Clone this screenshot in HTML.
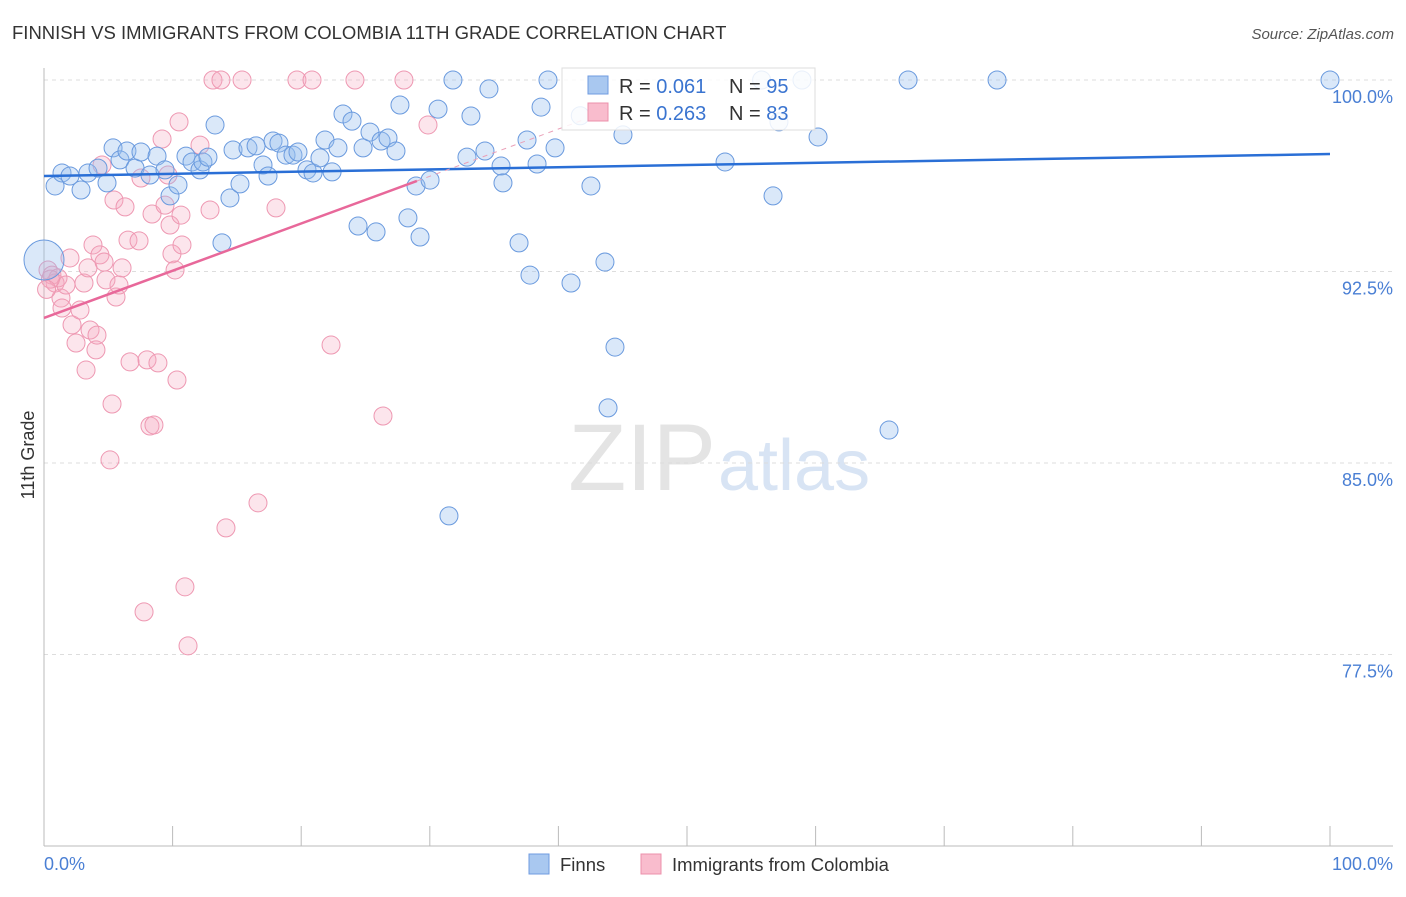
<!DOCTYPE html>
<html><head><meta charset="utf-8"><style>
body{margin:0;background:#fff;font-family:"Liberation Sans",sans-serif}
svg text{font-family:"Liberation Sans",sans-serif}
</style></head><body>
<svg id="c" width="1406" height="892" xmlns="http://www.w3.org/2000/svg">
<text x="12" y="39" font-size="18.5" fill="#333">FINNISH VS IMMIGRANTS FROM COLOMBIA 11TH GRADE CORRELATION CHART</text>
<text x="1394" y="39" font-size="15" fill="#555" text-anchor="end" font-style="italic">Source: ZipAtlas.com</text>
<text x="716" y="490" font-size="95" fill="#e4e4e4" text-anchor="end" font-family="Liberation Serif">ZIP</text>
<text x="718" y="490" font-size="72" fill="#d8e4f4">atlas</text>
<g id="grid"></g><g id="axes"></g><g id="pts"></g><g id="lines"></g>
<text transform="translate(34,455) rotate(-90)" font-size="18" fill="#333" text-anchor="middle">11th Grade</text>
<text x="44" y="870" font-size="18" fill="#4a7fd4">0.0%</text>
<text x="1393" y="870" font-size="18" fill="#4a7fd4" text-anchor="end">100.0%</text>
<g>
<rect x="562" y="68" width="253" height="62" fill="#fff" fill-opacity="0.85" stroke="#ddd"/>
<rect x="588" y="76" width="20" height="18" fill="#a9c8f0" stroke="#6f9be0"/>
<rect x="588" y="103" width="20" height="18" fill="#f9bccd" stroke="#ec90ab"/>
<text x="619" y="93" font-size="20" fill="#333">R = <tspan fill="#3a74d0">0.061</tspan></text>
<text x="729" y="93" font-size="20" fill="#333">N = <tspan fill="#3a74d0">95</tspan></text>
<text x="619" y="120" font-size="20" fill="#333">R = <tspan fill="#3a74d0">0.263</tspan></text>
<text x="729" y="120" font-size="20" fill="#333">N = <tspan fill="#3a74d0">83</tspan></text>
</g>
<g>
<rect x="529" y="854" width="20" height="20" fill="#a9c8f0" stroke="#6f9be0"/>
<text x="560" y="871" font-size="18.5" fill="#333">Finns</text>
<rect x="641" y="854" width="20" height="20" fill="#f9bccd" stroke="#ec90ab"/>
<text x="672" y="871" font-size="18.5" fill="#333">Immigrants from Colombia</text>
</g>
</svg>
<script>
const yTicks=[100,92.5,85,77.5];
const yTickLabels=["100.0%","92.5%","85.0%","77.5%"];
const xTicks=[0,10,20,30,40,50,60,70,80,90,100];
const finnsX=[0.86,1.40,2.02,2.88,3.42,4.20,4.90,5.37,5.91,6.45,7.08,7.54,8.24,8.79,9.41,9.80,10.42,11.04,11.51,12.13,12.36,12.75,13.30,13.84,14.46,14.70,15.24,15.86,16.49,17.03,17.42,17.81,18.27,18.82,19.36,19.75,20.45,20.92,21.46,21.85,22.40,22.86,23.25,23.95,24.42,24.81,25.35,25.82,26.21,26.75,27.37,27.68,28.30,28.93,29.24,30.02,30.64,31.80,31.49,32.89,33.20,34.29,34.60,35.54,35.69,36.94,37.79,37.56,38.34,38.65,39.19,39.74,40.98,42.53,43.62,44.40,43.86,45.02,52.96,56.69,57.15,58.94,60.19,65.71,67.19,74.11,100,41.7,55.8];
const finnsY=[95.85,96.36,96.24,95.69,96.36,96.55,95.97,97.34,96.87,97.22,96.55,97.18,96.28,97.02,96.48,95.46,95.89,97.02,96.79,96.48,96.79,96.98,98.24,93.62,95.38,97.26,95.93,97.34,97.42,96.67,96.24,97.61,97.53,97.06,97.06,97.18,96.48,96.36,96.95,97.65,96.40,97.34,98.67,98.39,94.28,97.34,97.96,94.05,97.61,97.73,97.22,99.02,94.60,95.85,93.85,96.08,98.86,100,82.93,96.98,98.59,97.22,99.65,96.63,95.97,93.62,92.36,97.65,96.71,98.94,100,97.34,92.05,95.85,92.87,89.54,87.16,97.85,96.79,95.46,98.36,100,97.77,86.29,100,100,100,98.6,100];
const colX=[0.31,0.62,0.86,1.09,1.32,1.71,2.02,1.40,2.18,2.49,2.80,3.11,3.27,3.42,3.58,3.81,4.04,4.12,4.35,4.51,4.67,4.82,5.13,5.29,5.44,5.60,5.83,6.07,6.30,6.53,6.69,7.39,7.54,7.78,8.01,8.24,8.40,8.55,8.86,9.18,9.41,9.64,9.80,9.95,10.19,10.34,10.50,10.73,10.65,10.96,11.20,12.13,12.91,13.14,13.76,14.15,15.40,16.64,18.04,19.67,20.84,22.32,24.18,26.36,27.99,29.86,0.5,0.2];
const colY=[92.56,92.36,92.05,92.25,91.46,91.97,93.03,91.07,90.41,89.70,90.99,92.05,88.64,92.64,90.21,93.54,89.43,90.01,93.15,96.67,92.87,92.17,85.12,87.31,95.30,91.50,91.97,92.64,95.03,93.73,88.96,93.70,96.16,79.17,89.04,86.45,94.75,86.49,88.92,97.69,95.10,96.28,94.32,93.19,92.56,88.25,98.36,93.54,94.71,80.15,77.84,97.45,94.91,100,100,82.46,100,83.44,94.99,100,100,89.62,100,86.84,100,98.24,92.2,91.8];
const finnsTrend=[96.24,0.0086];   // intercept, slope
const colTrend=[90.68,0.185];
const NS="http://www.w3.org/2000/svg";
const X=v=>44+v*12.86, Y=v=>80+(100-v)*191.5/7.5;
function mk(t,a,p){const e=document.createElementNS(NS,t);for(const k in a)e.setAttribute(k,a[k]);p.appendChild(e);return e;}
const grid=document.getElementById('grid'),axes=document.getElementById('axes'),pts=document.getElementById('pts'),lines=document.getElementById('lines');
yTicks.forEach((t,i)=>{
 const l=mk('line',{x1:44,x2:1393,y1:Y(t),y2:Y(t),stroke:'#ddd','stroke-dasharray':'4,4'},grid);
 
 
 const tx=mk('text',{x:1393,y:Y(t)+23,'font-size':18,fill:'#4a7fd4','text-anchor':'end'},grid);
 tx.textContent=yTickLabels[i];
 
 
});
const ya=mk('line',{x1:44,x2:44,y1:68,y2:846,stroke:'#bbb'},axes);


const xa=mk('line',{x1:44,x2:1393,y1:846,y2:846,stroke:'#bbb'},axes);


xTicks.forEach(t=>{const l=mk('line',{x1:X(t),x2:X(t),y1:826,y2:846,stroke:'#bbb'},axes);
 
 });
function dots(xs,ys,fill,stroke,name){xs.forEach((x,i)=>{
 const c=mk('circle',{cx:X(x),cy:Y(ys[i]),r:9,fill:fill,stroke:stroke,'stroke-width':1},pts);
 
 });}
dots(colX,colY,'rgba(246,170,192,0.3)','#ee98b2','colombia-point');
dots(finnsX,finnsY,'rgba(150,188,238,0.35)','#6a9ade','finns-point');
const big=mk('circle',{cx:X(0),cy:Y(92.95),r:20,fill:'rgba(150,188,238,0.35)',stroke:'#6a9ade'},pts);


const fl=mk('line',{x1:X(0),y1:Y(finnsTrend[0]),x2:X(100),y2:Y(finnsTrend[0]+100*finnsTrend[1]),stroke:'#2a6fd6','stroke-width':2.5},lines);


const cl=mk('line',{x1:X(0),y1:Y(colTrend[0]),x2:X(29),y2:Y(colTrend[0]+29*colTrend[1]),stroke:'#e8689a','stroke-width':2.5},lines);


const cd=mk('line',{x1:X(29),y1:Y(colTrend[0]+29*colTrend[1]),x2:X(42),y2:Y(colTrend[0]+42*colTrend[1]),stroke:'#eaa0b8','stroke-width':1,'stroke-dasharray':'5,5'},lines);


</script>
</body></html>
